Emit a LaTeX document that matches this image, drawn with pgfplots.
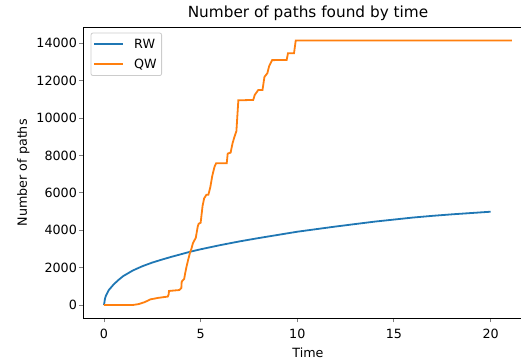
\documentclass[border=0pt]{standalone}
\usepackage{fontspec}
\setmainfont{DejaVu Sans}
\usepackage{pgfplots}
\pgfplotsset{compat=1.18}
\definecolor{mplblue}{HTML}{1F77B4}
\definecolor{mplorange}{HTML}{FF7F0E}
\begin{document}
\begin{tikzpicture}
\begin{axis}[name=ax, scale only axis, width=438.4pt, height=290.9pt,
  xmin=-1.055, xmax=21.625, ymin=-707, ymax=14857,
  xtick={0,5,10,15,20}, ytick={0,2000,4000,6000,8000,10000,12000,14000},
  scaled y ticks=false, scaled x ticks=false,
  tick pos=left, tick align=outside, major tick length=4.2pt,
  tick style={line width=0.9pt},
  axis line style={line width=0.9pt},
  /pgf/number format/.cd, assume math mode=true, 1000 sep={}, fixed, /pgfplots/.cd,
  ticklabel style={font=\fontsize{12.7}{15}\selectfont},
  xticklabel style={yshift=-3pt},
  yticklabel style={xshift=1pt},
  title={Number of paths found by time},
  title style={font=\fontsize{15.3}{18}\selectfont, xshift=5.2pt, yshift=-3pt},
  xlabel={Time}, ylabel={Number of paths},
  label style={font=\fontsize{12.7}{15}\selectfont},
  xlabel style={xshift=5.2pt, yshift=-2pt},
]
\addplot[color=mplblue, line width=1.8pt] coordinates {
(0,0) (0.05,330) (0.1,500) (0.25,800) (0.5,1100) (0.75,1340) (1,1550) (1.5,1850) (2,2080)
(2.5,2270) (3,2430) (3.5,2580) (4,2720) (4.5,2860) (5,2980) (6,3200) (7,3400)
(8,3580) (9,3750) (10,3920) (11,4060) (12,4200) (13,4330) (14,4460) (15,4570)
(16,4680) (17,4770) (18,4850) (19,4920) (20,4990)
};
\addplot[color=mplorange, line width=1.8pt] coordinates {
(0,0) (1.5,0) (1.8,50) (2.1,150) (2.4,300) (2.8,380) (3.3,450) (3.35,580) (3.36,750)
(3.9,800) (4.0,900) (4.02,1250) (4.15,1400) (4.2,1700) (4.27,2050) (4.35,2400)
(4.45,2800) (4.52,3000) (4.6,3300) (4.7,3500) (4.75,3600) (4.85,4200) (4.9,4350)
(5.0,4400) (5.1,5300) (5.18,5700) (5.3,5900) (5.4,5900) (5.5,6300) (5.6,6900)
(5.72,7400) (5.8,7580) (6.35,7580) (6.4,8100) (6.55,8150) (6.65,8650) (6.75,9000)
(6.85,9300) (6.95,10950) (7.72,10970) (7.8,11240) (7.98,11500) (8.2,11500)
(8.3,12200) (8.45,12400) (8.55,12800) (8.7,13100) (9.45,13110) (9.52,13470)
(9.83,13470) (9.92,14150) (21.1,14150)
};
\end{axis}
% legend (drawn by hand so that its keys keep the series' colour and width)
\draw[black!20, line width=0.8pt, fill=white, rounded corners=2pt]
  ([xshift=7.4pt,yshift=-5.7pt]ax.north west) rectangle ([xshift=78pt,yshift=-48.3pt]ax.north west);
\draw[mplblue, line width=1.8pt] ([xshift=10.7pt,yshift=-17pt]ax.north west) -- ([xshift=39.7pt,yshift=-17pt]ax.north west);
\draw[mplorange, line width=1.8pt] ([xshift=10.7pt,yshift=-37pt]ax.north west) -- ([xshift=39.7pt,yshift=-37pt]ax.north west);
\node[anchor=west, inner sep=0pt, font=\fontsize{12.7}{15}\selectfont] at ([xshift=50.4pt,yshift=-17pt]ax.north west) {RW};
\node[anchor=west, inner sep=0pt, font=\fontsize{12.7}{15}\selectfont] at ([xshift=50.4pt,yshift=-37pt]ax.north west) {QW};
\pgfresetboundingbox
\path ([xshift=-83.6pt,yshift=-42.8pt]ax.south west) rectangle ([xshift=-1pt,yshift=27.3pt]ax.north east);
\end{tikzpicture}
\end{document}
